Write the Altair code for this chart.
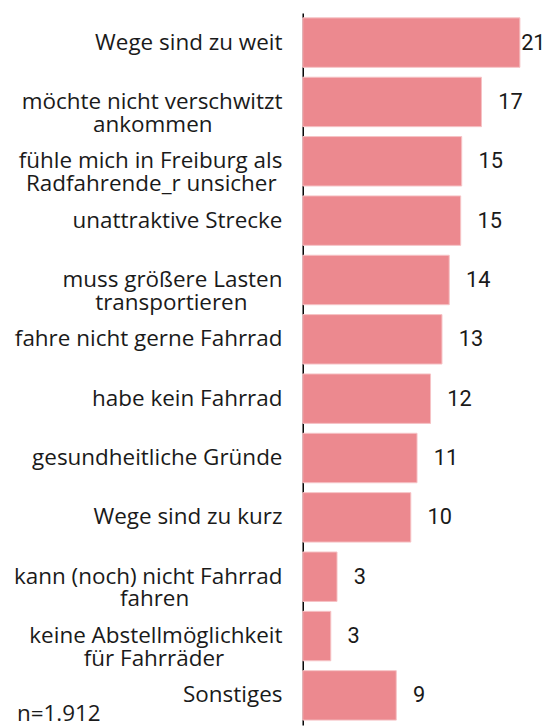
import altair as alt
import pandas as pd

# category label lines (second line empty for one-line labels)
line1 = [
    "Wege sind zu weit",
    "möchte nicht verschwitzt",
    "fühle mich in Freiburg als",
    "unattraktive Strecke",
    "muss größere Lasten",
    "fahre nicht gerne Fahrrad",
    "habe kein Fahrrad",
    "gesundheitliche Gründe",
    "Wege sind zu kurz",
    "kann (noch) nicht Fahrrad",
    "keine Abstellmöglichkeit",
    "Sonstiges",
]
line2 = [
    "",
    "ankommen",
    "Radfahrende_r unsicher",
    "",
    "transportieren",
    "",
    "",
    "",
    "",
    "fahren",
    "für Fahrräder",
    "",
]
values = [20.9, 17.2, 15.3, 15.2, 14.1, 13.4, 12.3, 11.0, 10.4, 3.3, 2.7, 9.0]
labels = ["21", "17", "15", "15", "14", "13", "12", "11", "10", "3", "3", "9"]
note = "n=1.912"

# layout only: non-breaking spaces (closed by a zero-width space so they are not trimmed)
# appended to the shorter second line, so both lines look centred on each other
# while the whole block stays right-aligned
pad2 = [0, 12, 1, 0, 6, 0, 0, 0, 0, 16, 10, 0]

cats = [a + ("|" + b + "\u00a0" * p + "\u200b" if b else "") for a, b, p in zip(line1, line2, pad2)]
df = pd.DataFrame({"cat": cats, "value": values, "label": labels})

LABEL_MAX = 19.4  # keep the longest value label inside the picture
XDOM = [0, 23.7]

y = alt.Y(
    "cat:N",
    sort=cats,
    title=None,
    scale=alt.Scale(paddingInner=0.167, paddingOuter=0.083),
    axis=alt.Axis(
        domainColor="#000000",
        domainWidth=1.5,
        ticks=False,
        labelPadding=21,
        labelFont="Open Sans",
        labelFontSize=22.7,
        labelColor="#1a1a1a",
        labelLineHeight=23,
        labelLimit=320,
        labelExpr="split(datum.label, '|')",
    ),
)
x = alt.X("value:Q", axis=None, scale=alt.Scale(domain=XDOM, nice=False))

base = alt.Chart(df)
bars = base.mark_bar(color="#EC898F", stroke="#F6C2C5", strokeWidth=1).encode(x=x, y=y)
text = (
    base.transform_calculate(pos=f"min(datum.value, {LABEL_MAX})")
    .mark_text(align="left", baseline="middle", dx=17, font="Roboto", fontSize=22, color="#1a1a1a")
    .encode(x=alt.X("pos:Q", axis=None, scale=alt.Scale(domain=XDOM, nice=False)), y=y, text="label:N")
)
note_layer = alt.Chart(pd.DataFrame({"t": [note]})).mark_text(
    align="left", baseline="alphabetic", font="Open Sans", fontSize=22.7, color="#1a1a1a"
).encode(x=alt.value(-289), y=alt.value(716), text="t:N")

chart = (
    alt.layer(bars, text, note_layer)
    .properties(width=249, height=720, autosize=alt.AutoSizeParams(type="none"),
                padding={"left": 298, "top": 1, "right": 0, "bottom": 0})
    .configure_view(stroke=None)
)
chart.save("out.html", embed_options={"renderer": "svg", "actions": False})
